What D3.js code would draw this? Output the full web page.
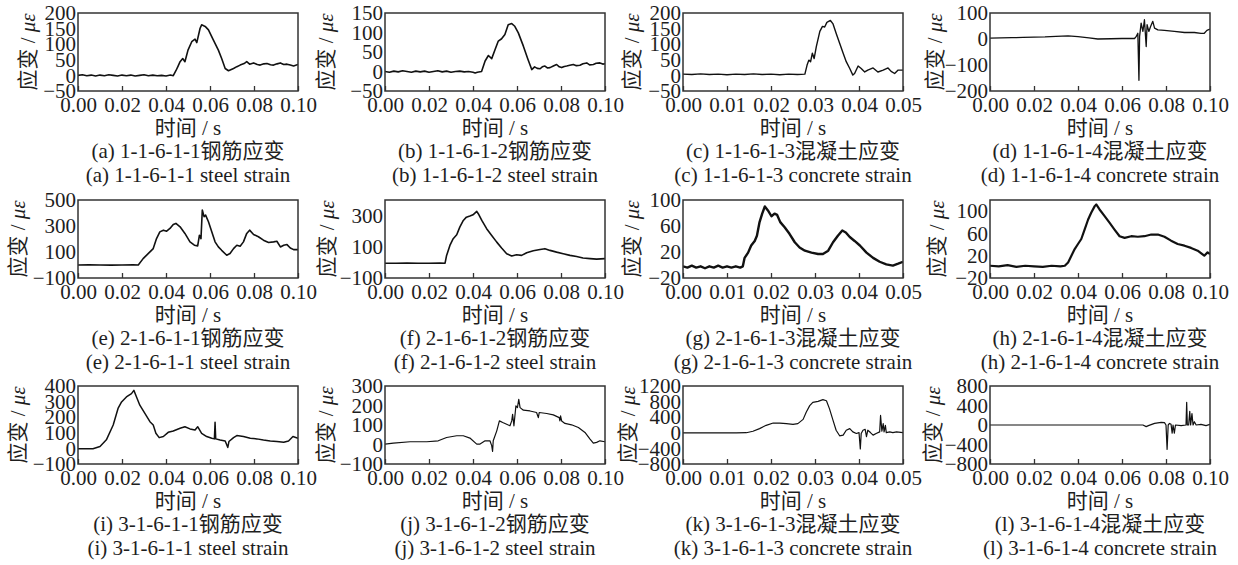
<!DOCTYPE html>
<html><head><meta charset="utf-8">
<script src="https://cdn.jsdelivr.net/npm/d3@7/dist/d3.min.js"></script>
<style>body{margin:0;background:#fff}</style>
</head><body><svg id="c" width="1238" height="565"></svg>
<script>
// ---------- DATA ----------
const captionsZh = ["(a) 1-1-6-1-1钢筋应变","(b) 1-1-6-1-2钢筋应变","(c) 1-1-6-1-3混凝土应变","(d) 1-1-6-1-4混凝土应变",
  "(e) 2-1-6-1-1钢筋应变","(f) 2-1-6-1-2钢筋应变","(g) 2-1-6-1-3混凝土应变","(h) 2-1-6-1-4混凝土应变",
  "(i) 3-1-6-1-1钢筋应变","(j) 3-1-6-1-2钢筋应变","(k) 3-1-6-1-3混凝土应变","(l) 3-1-6-1-4混凝土应变"];
const captionsEn = ["(a) 1-1-6-1-1 steel strain","(b) 1-1-6-1-2 steel strain","(c) 1-1-6-1-3 concrete strain","(d) 1-1-6-1-4 concrete strain",
  "(e) 2-1-6-1-1 steel strain","(f) 2-1-6-1-2 steel strain","(g) 2-1-6-1-3 concrete strain","(h) 2-1-6-1-4 concrete strain",
  "(i) 3-1-6-1-1 steel strain","(j) 3-1-6-1-2 steel strain","(k) 3-1-6-1-3 concrete strain","(l) 3-1-6-1-4 concrete strain"];
const xLabel = "时间 / s";
const yLabelMain = "应变 / ";
const yLabelUnit = "με";
const xMaxes = [0.1,0.1,0.05,0.1, 0.1,0.1,0.05,0.1, 0.1,0.1,0.05,0.1];
const xTicks10 = [0,0.02,0.04,0.06,0.08,0.10];
const xTicks05 = [0,0.01,0.02,0.03,0.04,0.05];
const yDomains = [[-50,200],[-50,150],[-50,200],[-200,100],
  [-100,500],[-100,400],[-20,100],[-20,120],
  [-100,400],[-100,300],[-800,1200],[-800,800]];
const yTickSets = [[-50,0,50,100,150,200],[-50,0,50,100,150],[-50,0,50,100,150,200],[-200,-100,0,100],
  [-100,100,300,500],[-100,100,300],[-20,20,60,100],[-20,20,60,100],
  [-100,0,100,200,300,400],[-100,0,100,200,300],[-800,-400,0,400,800,1200],[-800,-400,0,400,800]];

const seriesA = [[0,0],[0.002,2],[0.004,-1],[0.006,1],[0.008,-2],[0.01,1],[0.012,-1],[0.014,2],[0.016,0],[0.018,-2],[0.02,1],[0.022,-1],[0.024,1],[0.026,-2],[0.028,0],[0.03,2],[0.032,-1],[0.034,1],[0.036,-1],[0.038,0],[0.04,-2],[0.042,1],[0.0433,-1],[0.0445,15],[0.0455,30],[0.0464,44],[0.0476,54],[0.0486,44],[0.050,81],[0.0517,108],[0.0532,116],[0.054,105],[0.0555,151],[0.0562,162],[0.0578,157],[0.0593,146],[0.0615,114],[0.0638,81],[0.0653,54],[0.0669,22],[0.0684,15],[0.0707,22],[0.0722,28],[0.0737,33],[0.0755,38],[0.0767,44],[0.078,36],[0.0798,40],[0.0815,35],[0.0828,33],[0.0845,37],[0.0859,38],[0.0875,34],[0.0889,33],[0.0905,37],[0.092,40],[0.0935,35],[0.095,36],[0.0965,33],[0.098,30],[0.1,35]];
const seriesB = [[0,0],[0.002,-2],[0.004,1],[0.006,-1],[0.008,2],[0.01,0],[0.012,-2],[0.014,1],[0.016,-1],[0.018,1],[0.02,-2],[0.022,0],[0.024,2],[0.026,-1],[0.028,1],[0.03,-2],[0.032,0],[0.034,1],[0.036,-1],[0.038,0],[0.04,-2],[0.041,-4],[0.042,-2],[0.0439,0],[0.0455,27],[0.047,41],[0.0485,33],[0.05,56],[0.0515,78],[0.053,84],[0.0545,95],[0.056,120],[0.0576,123],[0.059,116],[0.0606,99],[0.0629,65],[0.065,31],[0.0667,5],[0.068,12],[0.0692,8],[0.0705,7],[0.0715,12],[0.0727,14],[0.0738,9],[0.075,10],[0.0765,14],[0.078,18],[0.0792,12],[0.0803,10],[0.0815,13],[0.0826,14],[0.084,16],[0.0856,18],[0.087,15],[0.0886,16],[0.09,20],[0.0917,22],[0.093,17],[0.0947,18],[0.096,21],[0.0977,22],[0.099,19],[0.1,20]];
const seriesC = [[0,4],[0.002,3],[0.004,5],[0.006,3],[0.008,4],[0.01,2],[0.012,4],[0.014,3],[0.016,5],[0.018,3],[0.02,4],[0.022,2],[0.024,4],[0.026,3],[0.0277,4],[0.0282,33],[0.0286,49],[0.029,44],[0.0294,71],[0.0298,54],[0.0303,92],[0.0311,141],[0.0317,157],[0.0322,155],[0.0327,170],[0.0335,176],[0.0341,165],[0.0348,135],[0.0356,103],[0.0364,71],[0.0371,44],[0.0379,22],[0.0386,1],[0.039,6],[0.0398,30],[0.0405,22],[0.0413,11],[0.042,17],[0.0432,24],[0.0443,11],[0.0455,17],[0.0466,24],[0.0473,13],[0.0481,6],[0.0489,17],[0.05,17]];
const seriesD = [[0,3],[0.005,4],[0.01,5],[0.015,6],[0.02,7],[0.025,8],[0.03,10],[0.0355,12],[0.04,9],[0.045,4],[0.049,0],[0.055,1],[0.06,2],[0.0657,2],[0.0665,10],[0.0672,22],[0.0677,-159],[0.068,10],[0.0687,61],[0.0695,29],[0.0702,74],[0.071,-29],[0.0714,55],[0.0722,29],[0.073,48],[0.074,68],[0.0748,42],[0.0763,35],[0.0793,33],[0.0838,29],[0.0884,25],[0.0929,25],[0.0959,22],[0.0974,22],[0.0986,33],[0.1,38]];
const seriesE = [[0,0],[0.005,1],[0.01,0],[0.015,-1],[0.02,0],[0.025,1],[0.0274,0],[0.0296,49],[0.0319,88],[0.0342,126],[0.0357,203],[0.0372,255],[0.0388,268],[0.0403,260],[0.0418,281],[0.0433,312],[0.0445,320],[0.0464,294],[0.0486,243],[0.0509,178],[0.0529,152],[0.0544,147],[0.0552,229],[0.0559,203],[0.0565,423],[0.0573,372],[0.058,384],[0.0593,333],[0.0608,255],[0.0623,178],[0.0638,139],[0.0653,113],[0.0676,75],[0.0691,88],[0.0707,126],[0.0722,152],[0.0737,144],[0.0752,178],[0.0767,243],[0.078,268],[0.0798,235],[0.082,217],[0.0843,191],[0.0866,173],[0.0889,178],[0.0904,183],[0.092,139],[0.0935,152],[0.095,157],[0.0965,131],[0.098,118],[0.1,118]];
const seriesF = [[0,-5],[0.005,-5],[0.01,-4],[0.015,-5],[0.02,-5],[0.025,-4],[0.0273,-5],[0.028,45],[0.0295,109],[0.031,152],[0.0326,177],[0.034,226],[0.0356,269],[0.037,290],[0.0386,297],[0.04,305],[0.0417,327],[0.0424,312],[0.044,269],[0.0462,216],[0.0485,173],[0.0508,130],[0.053,92],[0.0553,56],[0.0576,41],[0.0598,49],[0.0621,45],[0.0644,62],[0.0674,75],[0.0705,83],[0.0727,88],[0.075,77],[0.078,66],[0.081,56],[0.0841,45],[0.0871,38],[0.09,28],[0.0932,24],[0.0962,21],[0.1,24]];
const seriesG = [[0,-2],[0.001,-4],[0.002,-1],[0.003,-4],[0.004,-2],[0.005,-5],[0.006,-2],[0.007,-4],[0.008,-1],[0.009,-4],[0.01,-2],[0.011,-4],[0.012,-2],[0.013,-4],[0.0136,-2],[0.014,11],[0.0148,19],[0.0155,30],[0.0163,37],[0.0168,45],[0.0174,66],[0.018,79],[0.0186,90],[0.0193,84],[0.0201,75],[0.0208,79],[0.0214,77],[0.0221,66],[0.0231,58],[0.0242,48],[0.0254,35],[0.0265,27],[0.0277,22],[0.0292,19],[0.0307,17],[0.0318,17],[0.033,22],[0.0341,35],[0.0352,45],[0.0362,53],[0.037,50],[0.0379,43],[0.039,37],[0.0402,30],[0.0417,19],[0.0432,11],[0.0447,5],[0.0462,1],[0.0477,-1],[0.0489,2],[0.05,5]];
const seriesH = [[0,2],[0.004,1],[0.008,3],[0.012,0],[0.016,2],[0.02,1],[0.024,0],[0.028,2],[0.032,1],[0.034,2],[0.0355,8],[0.037,20],[0.0385,32],[0.04,41],[0.0415,50],[0.043,67],[0.0446,85],[0.046,97],[0.0476,109],[0.0483,112],[0.0498,103],[0.0521,91],[0.0544,79],[0.0566,67],[0.0589,55],[0.0612,52],[0.0642,55],[0.0672,54],[0.0702,55],[0.0733,58],[0.0763,58],[0.0793,54],[0.0823,47],[0.0853,41],[0.0884,38],[0.0914,34],[0.0944,29],[0.0974,20],[0.0989,26],[0.1,23]];
const seriesI = [[0,-2],[0.003,-3],[0.0068,-2],[0.01,12],[0.0129,55],[0.016,150],[0.0182,256],[0.0198,298],[0.022,330],[0.0243,351],[0.0254,372],[0.0266,330],[0.0281,277],[0.0304,224],[0.0327,171],[0.0342,150],[0.0354,97],[0.0369,69],[0.0388,76],[0.041,103],[0.0433,112],[0.0464,129],[0.0486,139],[0.0509,125],[0.0532,118],[0.0544,139],[0.0562,97],[0.0585,76],[0.0608,65],[0.062,61],[0.0623,167],[0.0626,61],[0.0646,54],[0.0669,48],[0.0681,6],[0.0686,44],[0.0707,69],[0.0722,82],[0.0752,76],[0.0783,65],[0.0813,61],[0.0843,54],[0.0874,48],[0.0904,44],[0.0935,40],[0.0957,48],[0.0977,76],[0.1,65]];
const seriesJ = [[0,2],[0.0038,7],[0.0114,14],[0.019,14],[0.0242,19],[0.028,36],[0.0326,45],[0.0356,45],[0.0386,33],[0.0417,2],[0.0432,2],[0.0455,19],[0.0477,19],[0.0485,-6],[0.0489,-35],[0.0492,19],[0.0508,70],[0.052,121],[0.0535,113],[0.0553,104],[0.0568,96],[0.0576,121],[0.058,155],[0.0586,96],[0.0595,198],[0.0602,189],[0.0608,232],[0.0614,189],[0.0629,176],[0.0659,172],[0.0689,164],[0.0697,138],[0.0701,164],[0.0735,159],[0.0765,152],[0.0792,138],[0.0795,121],[0.0798,147],[0.0803,121],[0.0818,108],[0.0848,101],[0.0879,87],[0.0909,62],[0.0932,28],[0.0947,7],[0.0962,11],[0.0977,19],[0.1,14]];
const seriesK = [[0,0],[0.0121,0],[0.0144,2],[0.0159,40],[0.0174,108],[0.0189,192],[0.0205,250],[0.022,250],[0.0235,235],[0.025,218],[0.0261,235],[0.0273,344],[0.028,529],[0.0288,697],[0.0295,781],[0.0307,806],[0.0318,849],[0.0326,823],[0.0333,613],[0.0341,319],[0.0348,66],[0.0356,-77],[0.0364,-60],[0.0371,66],[0.0379,108],[0.0386,24],[0.0394,-18],[0.04,6],[0.0403,-414],[0.0405,-18],[0.0409,66],[0.0414,90],[0.0417,-101],[0.042,66],[0.0426,6],[0.0432,-60],[0.0439,-18],[0.0447,24],[0.0449,445],[0.0452,40],[0.0455,235],[0.0457,24],[0.046,192],[0.0462,6],[0.047,24],[0.0477,6],[0.0485,24],[0.05,6]];
const seriesL = [[0,0],[0.0695,0],[0.071,-33],[0.072,-13],[0.0748,33],[0.0778,53],[0.0793,47],[0.08,0],[0.0805,-500],[0.081,0],[0.0816,33],[0.0823,13],[0.0828,-167],[0.0832,0],[0.0838,-167],[0.0843,0],[0.0869,-13],[0.0891,0],[0.0894,467],[0.0897,0],[0.0903,0],[0.0908,280],[0.0912,0],[0.0918,233],[0.0923,0],[0.0929,67],[0.0937,0],[0.0959,13],[0.0982,-13],[0.1,13]];
const allSeries = [seriesA,seriesB,seriesC,seriesD,seriesE,seriesF,seriesG,seriesH,seriesI,seriesJ,seriesK,seriesL];

// ---------- LAYOUT / STYLE ----------
const boxLeft = [78,385,683,990], boxTop = [13,200,386];
const W = 220, H = 78;
const yLabelOffset = [50,59,51,55, 60,58,51,53, 60,59,55,57];
const strokeW = [1.6,1.6,1.4,1.3, 1.6,1.6,2.4,2.2, 1.5,1.2,1.2,1.2];
const font = "'Liberation Serif','Times New Roman','Noto Sans CJK SC',serif";
const ink = "#1e1e1e";
const FS = 21;

const svg = d3.select("#c");
allSeries.forEach((data,i)=>{
  const col=i%4,row=Math.floor(i/4);
  const x0=boxLeft[col], y0=boxTop[row];
  const x=d3.scaleLinear().domain([0,xMaxes[i]]).range([x0,x0+W]);
  const y=d3.scaleLinear().domain(yDomains[i]).range([y0+H,y0]);
  const g=svg.append("g");
  const cid="clip"+i;
  g.append("clipPath").attr("id",cid).append("rect").attr("x",x0).attr("y",y0).attr("width",W).attr("height",H);
  g.append("path").datum(data).attr("clip-path",`url(#${cid})`)
    .attr("fill","none").attr("stroke","#111").attr("stroke-width",strokeW[i]).attr("stroke-linejoin","round")
    .attr("d",d3.line().x(d=>x(d[0])).y(d=>y(d[1])));
  // x axis
  const xt = xMaxes[i]>0.06?xTicks10:xTicks05;
  const ax=g.append("g").attr("transform",`translate(0,${y0+H})`)
    .call(d3.axisBottom(x).tickValues(xt).tickSizeInner(-5).tickSizeOuter(0).tickPadding(6).tickFormat(d=>d.toFixed(2)));
  ax.select(".domain").remove();
  ax.selectAll("line").attr("stroke","#333").attr("stroke-width",1.3);
  ax.selectAll("text").attr("font-family",font).attr("font-size",FS).attr("fill",ink);
  // y axis
  const ay=g.append("g").attr("transform",`translate(${x0},0)`)
    .call(d3.axisLeft(y).tickValues(yTickSets[i]).tickSize(0).tickPadding(2).tickFormat(d=>d<0?"\u2212"+Math.abs(d):String(d)));
  ay.select(".domain").remove();
  ay.selectAll("text").attr("font-family",font).attr("font-size",FS).attr("fill",ink);
  // box
  g.append("rect").attr("x",x0).attr("y",y0).attr("width",W).attr("height",H)
    .attr("fill","none").attr("stroke","#333").attr("stroke-width",1.5);
  // y label
  const yl=g.append("text").attr("transform",`translate(${x0-yLabelOffset[i]},${y0+H/2}) rotate(-90)`)
    .attr("text-anchor","middle").attr("dy","0.35em").attr("font-family",font).attr("font-size",FS).attr("fill",ink);
  yl.append("tspan").text(yLabelMain);
  yl.append("tspan").attr("font-style","italic").text(yLabelUnit);
  // x label + captions
  const cx=x0+W/2;
  g.append("text").attr("x",cx).attr("y",y0+H+44).attr("text-anchor","middle").attr("font-family",font).attr("font-size",FS).attr("fill",ink).text(xLabel);
  g.append("text").attr("x",cx).attr("y",y0+H+67).attr("text-anchor","middle").attr("font-family",font).attr("font-size",FS).attr("fill",ink).text(captionsZh[i]);
  g.append("text").attr("x",cx).attr("y",y0+H+91).attr("text-anchor","middle").attr("font-family",font).attr("font-size",FS).attr("fill",ink).text(captionsEn[i]);
});
</script></body></html>
